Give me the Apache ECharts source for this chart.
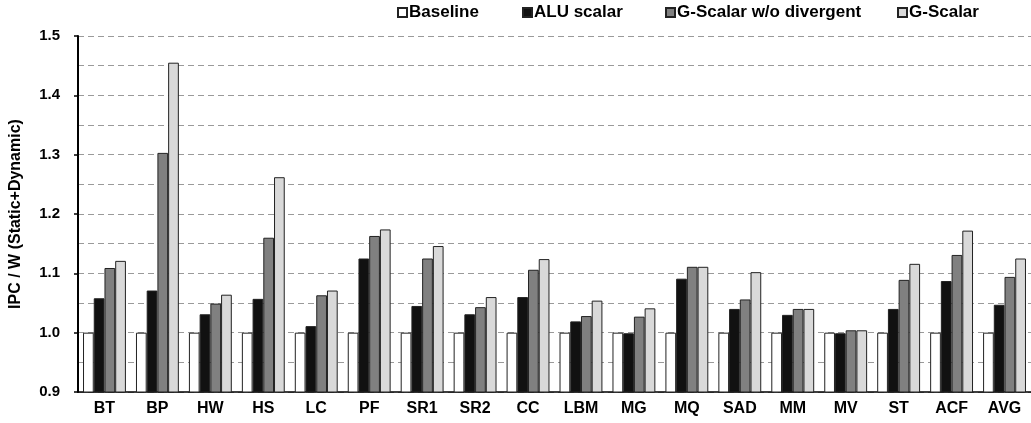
<!DOCTYPE html>
<html>
<head>
<meta charset="utf-8">
<script src="https://cdn.jsdelivr.net/npm/echarts@6/dist/echarts.min.js"></script>
<style>html,body{margin:0;padding:0;background:#fff}#c{width:1031px;height:423px}</style>
</head>
<body>
<div id="c"></div>
<script>
const categories = ['BT','BP','HW','HS','LC','PF','SR1','SR2','CC','LBM','MG','MQ','SAD','MM','MV','ST','ACF','AVG'];
const seriesNames = ['Baseline','ALU scalar','G-Scalar w/o divergent','G-Scalar'];
const baseline   = [1,1,1,1,1,1,1,1,1,1,1,1,1,1,1,1,1,1];
const aluScalar  = [1.058,1.071,1.031,1.057,1.011,1.125,1.045,1.031,1.060,1.019,0.999,1.091,1.040,1.030,0.999,1.040,1.087,1.047];
const gScalarWoDiv = [1.109,1.303,1.049,1.160,1.063,1.163,1.125,1.043,1.106,1.028,1.027,1.111,1.056,1.040,1.004,1.089,1.131,1.094];
const gScalar    = [1.121,1.455,1.064,1.262,1.071,1.174,1.146,1.060,1.124,1.054,1.041,1.111,1.102,1.040,1.004,1.116,1.172,1.125];
const yTicks = [0.9,1.0,1.1,1.2,1.3,1.4,1.5];

const colors = ['#ffffff','#111111','#808080','#d9d9d9'];
const data = [baseline, aluScalar, gScalarWoDiv, gScalar];
const font = 'Arial, "Liberation Sans", Helvetica, sans-serif';

const chart = echarts.init(document.getElementById('c'), null, {renderer:'canvas'});
const legendLefts = [397, 522, 665, 897];
chart.setOption({
  animation: false,
  backgroundColor: '#fff',
  textStyle: {fontFamily: font},
  legend: seriesNames.map((n,i)=>({
    data:[n], left: legendLefts[i], top: 4, padding: 0, itemWidth: 9, itemHeight: 9, itemGap: 0,
    icon: 'rect',
    textStyle:{fontFamily: font, fontWeight:'bold', fontSize:17, color:'#000', padding:[0,0,0,-3]}
  })),
  grid: {left: 77, right: 0, top: 36, bottom: 31, containLabel: false},
  xAxis: {
    type: 'category', data: categories,
    axisLine: {show:true, onZero:false, lineStyle:{color:'#000', width:1.5}},
    axisTick: {show:false},
    axisLabel: {fontFamily: font, fontWeight:'bold', fontSize:16, color:'#000', margin:9, interval:0}
  },
  yAxis: {
    type: 'value', min: yTicks[0], max: yTicks[yTicks.length-1], interval: 0.1,
    name: 'IPC / W (Static+Dynamic)', nameLocation: 'middle', nameGap: 54, nameRotate: 90,
    nameTextStyle: {fontFamily: font, fontWeight:'bold', fontSize:16, color:'#000'},
    axisLine: {show:true, lineStyle:{color:'#000', width:2}},
    axisTick: {show:true, length:4, lineStyle:{color:'#000', width:1.5}},
    axisLabel: {fontFamily: font, fontWeight:'bold', fontSize:15, color:'#000', margin:18,
      formatter: v => v.toFixed(1)},
    splitLine: {show:true, lineStyle:{color:'#9a9a9a', type:[6,4], width:1}},
    minorTick: {show:false, splitNumber:2},
    minorSplitLine: {show:true, lineStyle:{color:'#9a9a9a', type:[6,4], width:1}}
  },
  series: seriesNames.map((n,i)=>({
    name: n, type: 'bar', data: data[i],
    barGap: '0%', barCategoryGap: '19%',
    itemStyle: {color: colors[i], borderColor:'#222', borderWidth:1}
  }))
});
</script>
</body>
</html>
